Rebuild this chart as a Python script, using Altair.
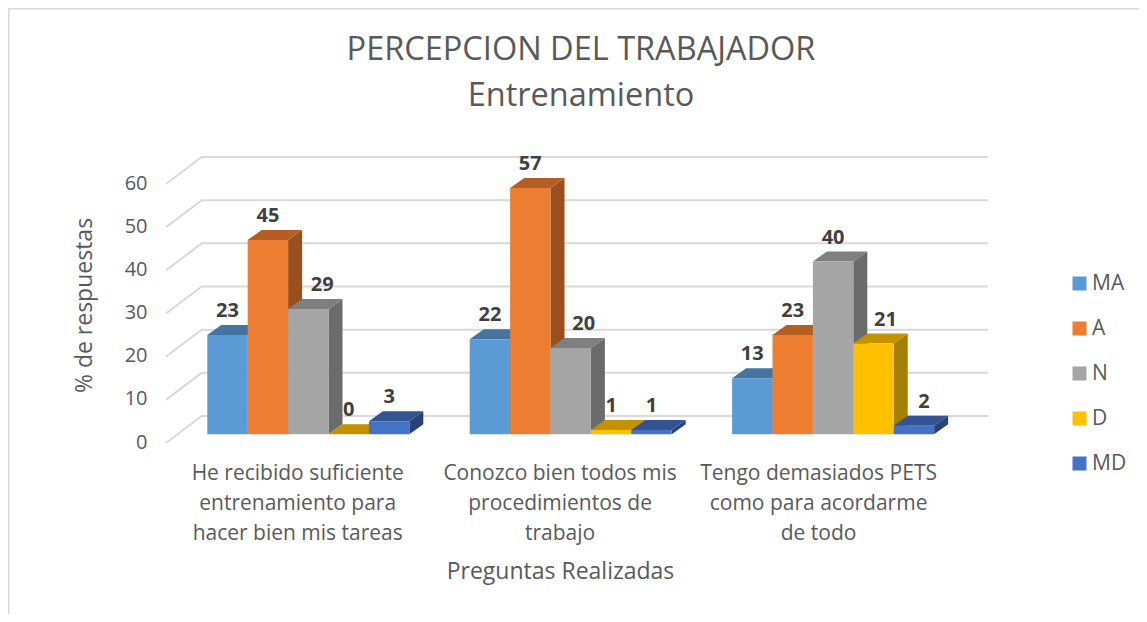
import altair as alt
import pandas as pd

# --- chart values ---
series = ["MA", "A", "N", "D", "MD"]
colors = ["#5B9BD5", "#ED7D31", "#A5A5A5", "#FFC000", "#4472C4"]
top_colors = ["#44749F", "#B45E24", "#7F7F7F", "#C29200", "#325492"]
side_colors = ["#3A6489", "#9A501E", "#6B6B6B", "#A57F00", "#284372"]
q1 = [23, 45, 29, 0, 3]
q2 = [22, 57, 20, 1, 1]
q3 = [13, 23, 40, 21, 2]
groups = [q1, q2, q3]
grid_values = [0, 10, 20, 30, 40, 50, 60]
label_centers = [0.5, 1.5, 2.485]
wrapped = [
    ["He recibido suficiente", "entrenamiento para", "hacer bien mis tareas"],
    ["Conozco bien todos mis", "procedimientos de", "trabajo"],
    ["Tengo demasiados PETS", "como para acordarme", "de todo"],
]
# horizontal nudge of some data labels, in pixels
nudges = [[0, 0, 14, 0, 0], [0, 0, 13, 0, 0], [0, 0, 0, 12, 10]]

# --- oblique projection of the 3-D look, in axis units ---
UNIT = 262.4          # pixels per category
PX = 259 / 60         # pixels per value unit
GROUP_START = 41.3 / UNIT
BAR_W = 40.4 / UNIT
DEPTH_X = 14 / UNIT
DEPTH_Y = 10 / PX
BASE = 8.7 / PX
WALL_X = 35.7 / UNIT
WALL_Y = 27 / PX
WALL_END = 822 / UNIT

FONT = "Open Sans"
TXT = "#595959"
GRID = "#D9D9D9"

x_scale = alt.Scale(domain=[0, 824 / UNIT], nice=False, zero=False)
y_scale = alt.Scale(domain=[0, 60], nice=False, zero=False)

fronts, faces, grid = [], [], []
pid = 0
for g, vals in enumerate(groups):
    for s, v in enumerate(vals):
        x0 = GROUP_START + g + s * BAR_W
        x1 = x0 + BAR_W
        top = BASE + v * 4.32 / PX
        fronts.append(dict(series=series[s], value=v, x0=x0, x1=x1,
                           xc=(x0 + x1) / 2 + nudges[g][s] / UNIT, base=BASE, top=top))
        # side face
        pid += 1
        for x, lo, hi in [(x1, BASE, top), (x1 + DEPTH_X, BASE + DEPTH_Y, top + DEPTH_Y)]:
            faces.append(dict(poly=f"{pid:03d}", fill=side_colors[s], x=x, lo=lo, hi=hi))
        # top face
        pid += 1
        for x, lo, hi in [
            (x0, top, top),
            (x0 + DEPTH_X, top, top + DEPTH_Y),
            (x1, top, top + DEPTH_Y),
            (x1 + DEPTH_X, top + DEPTH_Y, top + DEPTH_Y),
        ]:
            faces.append(dict(poly=f"{pid:03d}", fill=top_colors[s], x=x, lo=lo, hi=hi))

for v in grid_values:
    for x, y in [(0, v), (WALL_X, v + WALL_Y), (WALL_END, v + WALL_Y)]:
        grid.append(dict(level=v, x=x, y=y))

label_expr = "[" + ",".join(
    "[" + ",".join(f"'{t}'" for t in lines) + "]" for lines in wrapped
) + "][floor(datum.value)]"

x_axis = alt.Axis(
    values=label_centers, labelExpr=label_expr, domain=False, ticks=False, grid=False,
    labelFont=FONT, labelFontSize=21, labelColor=TXT, labelLineHeight=30,
    labelPadding=19, labelLimit=400, labelOverlap=False, labelAngle=0,
    title="Preguntas Realizadas", titleFont=FONT, titleFontSize=23, titleFontWeight="normal",
    titleColor=TXT, titleX=394, titleY=117,
)
y_axis = alt.Axis(
    values=grid_values, domain=False, ticks=False, grid=False,
    labelFont=FONT, labelFontSize=20, labelColor=TXT, labelPadding=19, labelOffset=-1,
    title="% de respuestas", titleFont=FONT, titleFontSize=23, titleFontWeight="normal",
    titleColor=TXT, titleX=-70, titleY=121,
)

grid_layer = alt.Chart(pd.DataFrame(grid)).mark_line(color=GRID, strokeWidth=2).encode(
    x=alt.X("x:Q", scale=x_scale, axis=x_axis),
    y=alt.Y("y:Q", scale=y_scale, axis=y_axis),
    detail="level:N",
)

face_layer = alt.Chart(pd.DataFrame(faces)).mark_area(orient="vertical").encode(
    x=alt.X("x:Q", scale=x_scale, axis=x_axis),
    y=alt.Y("lo:Q", scale=y_scale, axis=y_axis),
    y2="hi:Q",
    fill=alt.Fill("fill:N", scale=None, legend=None),
    detail="poly:N",
)

front_df = pd.DataFrame(fronts)
front_layer = alt.Chart(front_df).mark_rect().encode(
    x=alt.X("x0:Q", scale=x_scale, axis=x_axis),
    x2="x1:Q",
    y=alt.Y("base:Q", scale=y_scale, axis=y_axis),
    y2="top:Q",
    color=alt.Color(
        "series:N",
        scale=alt.Scale(domain=series, range=colors),
        legend=alt.Legend(
            title=None, orient="none", legendX=903, legendY=89, padding=0,
            symbolType="square", symbolSize=196, symbolStrokeWidth=0, rowPadding=23,
            labelFont=FONT, labelFontSize=21, labelColor=TXT, labelOffset=2,
        ),
    ),
)

text_layer = alt.Chart(front_df).mark_text(
    font=FONT, fontSize=20, fontWeight="bold", color="#404040", baseline="middle", dy=-24
).encode(
    x=alt.X("xc:Q", scale=x_scale, axis=x_axis),
    y=alt.Y("top:Q", scale=y_scale, axis=y_axis),
    text="value:Q",
)

border_top = alt.Chart(pd.DataFrame({"a": [0]})).mark_rule(color=GRID, strokeWidth=3).encode(
    x=alt.value(-158), x2=alt.value(973), y=alt.value(-176)
)
border_left = alt.Chart(pd.DataFrame({"a": [0]})).mark_rule(color=GRID, strokeWidth=3).encode(
    x=alt.value(-158), y=alt.value(-176), y2=alt.value(430)
)

chart = (
    alt.layer(grid_layer, face_layer, front_layer, text_layer, border_top, border_left)
    .properties(
        width=824,
        height=259,
        padding={"left": 158, "top": 176, "right": 149, "bottom": 171},
        autosize=alt.AutoSizeParams(type="none"),
        title=alt.TitleParams(
            text=["PERCEPCION DEL TRABAJADOR", "Entrenamiento"],
            font=FONT, fontSize=32.5, fontWeight="normal", color=TXT,
            anchor="middle", lineHeight=46, offset=0, dx=3, dy=106, frame="group",
        ),
    )
    .configure_view(stroke=None)
    .configure_axis(labelFontWeight="normal")
)

chart.save("out.html", embed_options={"renderer": "svg", "actions": False})
